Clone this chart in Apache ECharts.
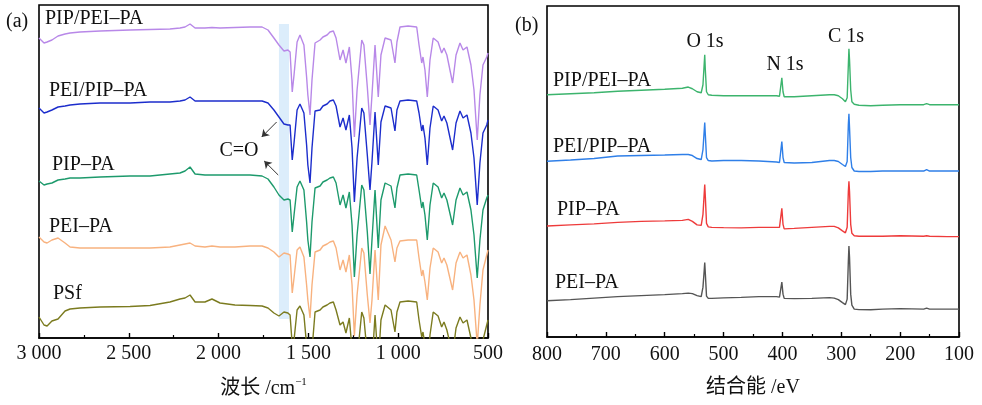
<!DOCTYPE html>
<html><head><meta charset="utf-8">
<script src="https://cdn.jsdelivr.net/npm/echarts@6/dist/echarts.min.js"></script>
<style>html,body{margin:0;padding:0;background:#fff}#c{width:982px;height:405px}</style>
</head><body><div id="c"></div>
<script>
// ---------- Panel (a): FTIR ----------
const ftirWavenumber = [3000,2972,2955,2928,2894,2855,2827,2772,2660,2493,2382,2271,2215,2187,2159,2131,2076,2037,1992,1909,1825,1758,1725,1692,1664,1636,1614,
1602,1590,1580,1563,1547,1525,1510,1503,1491,1480,1463,1435,1419,1396,1380,1361,1346,1324,1307,1291,1272,1257,1244,1229,1203,1191,1172,1157,1146,1129,1111,1096,1073,1040,1018,1007,990,945,897,884,869,862,851,838,823,805,778,758,745,729,697,678,656,639,617,595,578,560,545,528,507,500];
const ftirPIPPEI = [300,295,296,298,302,304,305,306,307,308,308.5,309,310,311,314,310,310,310.5,310,310.5,311,311,308,300,293,287,288,
286,246,263,296,303,293,261,243,223,258,295,298,301,303,306,307,300,278,288,275,291,258,201,248,298,293,251,213,243,293,241,283,300,298,275,296,311,312,311,293,275,281,268,241,278,300,296,285,290,283,255,283,295,288,291,273,248,198,243,273,281,285];
const ftirPEIPIP = [230,225,226,228,231,232,233,234,235,235,236,236,237,238,241,237,237,237,237,237,237,237,235,228,221,214,213,
213,178,195,228,234,225,193,173,155,190,227,228,232,234,237,238,232,211,220,208,223,190,136,180,230,225,183,148,176,226,173,216,232,230,207,228,237,238,237,225,207,213,200,173,210,232,228,217,222,215,188,215,227,220,223,205,180,133,175,205,213,218];
const ftirPIP = [157,153,154,155,158,159,160,160,161,162,162,164,165,167,171,164,163,163,163,163,163,162,159,151,143,138,139,
138,106,123,151,157,148,116,98,81,116,150,152,156,158,160,161,155,133,143,130,146,113,61,103,153,148,106,64,98,148,90,138,155,152,130,150,163,164,163,148,130,136,123,98,133,155,151,140,145,138,113,138,150,143,146,128,103,60,98,128,140,143];
const ftirPEI = [101,96,95,98,100,95,91,90,90,90,90,91,93,94,95,92,91,92,91,91,92,92,90,86,81,85,84,
83,45,60,88,91,81,53,38,20,53,86,88,92,94,96,97,90,68,78,66,83,53,2,43,90,85,43,15,38,88,38,93,112,98,76,90,97,98,98,80,62,68,56,38,70,90,86,75,80,73,48,75,86,80,83,63,38,-7,33,68,83,88];
const ftirPSf = [21,13,12,17,19,27,29,30,31,31.5,32.5,36,39,40,43,36,36,39,35,33,32.5,32,30,25,22,26,25,
23,-7,-2,28,32,23,-7,-22,-42,-12,26,28,31,33,35,36,28,13,16,5,20,-12,-62,-22,26,20,-17,-57,-27,23,-27,18,33,28,6,26,36,37,36,18,1,6,-7,-32,3,26,22,11,16,8,-17,10,21,15,18,0,-27,-72,-32,-2,13,18];
const ftirTicks = [3000,2500,2000,1500,1000,500];

// ---------- Panel (b): XPS ----------
const xpsBE = [800,760,720,680,640,600,570,560,553,545,538,535,533,532,531,529,526,520,500,470,440,410,405,403,401,399,397,394,380,350,320,312,305,298,293,290,288,287,286,284,282,278,270,250,230,200,160,155,150,120,100];
const xpsPIPPEI = [243,244,245,246.5,247.5,248.5,249.5,250.7,249,246,245,253,273,283,268,246,243,242.5,242,242,242,242,241.5,241,260,246,241,240.5,241,242,243,243,242,239,236,240,273,289,278,248,236,233.5,232.5,232,232.5,233,233,234,233,233,233];
const xpsPEIPIP = [176.3,177.5,179,181.5,182,182.5,183,183,182,179,178,188,206,215,203,180,177,176.5,177,177,176.5,175.5,175,175,196,180,175,174.5,174.5,175,177,177,176,173,171,176,213,224,210,180,170,166.5,166,166,166.5,166.5,166.5,168,166.5,166.5,166.5];
const xpsPIP = [111.3,112.5,113.5,115,116,116.5,117,118,116,112.5,112,123,143,153,141,114,110.5,110,109.7,109.5,110,110,110,109.5,129,113,108.5,108.5,109,110,111,111,109.5,106.5,104.5,110,146,156.3,146,113,104,101.5,101,101,101,101.5,101,101.5,101,100.7,100.7];
const xpsPEI = [36.3,37.5,39,40.5,41.5,42.5,43.5,44,43.5,41.5,40.5,50,66,74.7,64,41,38.7,38.7,39.2,39.7,40.5,40.5,40,40,55,43,38.7,38.5,38.5,38.7,39.5,39,37.5,34.5,32.5,38,76,91.3,80,43,32,28,27.5,27.3,28,28.5,28,29,28,28,28];

const SERIF = "'Liberation Serif','Noto Sans CJK SC',serif";
const pair = (xs, ys) => xs.map((x, i) => [x, ys[i]]);

function lineSeries(name, xi, xs, ys, color) {
  return { name, type: 'line', xAxisIndex: xi, yAxisIndex: xi, data: pair(xs, ys),
    showSymbol: false, symbol: 'none', clip: true, z: 3, animation: false,
    lineStyle: { color, width: 1.4 } };
}

function txt(text, x, y, size, align) {
  return { type: 'text', x, y, style: { text, fontSize: size || 20, fontFamily: SERIF, fill: '#111', align: align || 'left', verticalAlign: 'middle' } };
}

const axisCommon = (min, max, interval, fmt, margin) => ({
  type: 'value', min, max, interval, inverse: true,
  axisLine: { show: true, onZero: false, lineStyle: { color: '#000', width: 1.6 } },
  axisTick: { show: true, inside: true, length: 5, lineStyle: { color: '#000', width: 1.4 } },
  minorTick: { show: true, splitNumber: 2, length: 3, lineStyle: { color: '#000', width: 1.2 } },
  splitLine: { show: false },
  axisLabel: { formatter: fmt, fontSize: 20, fontFamily: SERIF, color: '#111', margin }
});

const chart = echarts.init(document.getElementById('c'), null, { renderer: 'canvas' });
chart.setOption({
  animation: false,
  backgroundColor: '#fff',
  grid: [
    { left: 39, right: 494, top: 5, bottom: 67, show: true, borderColor: '#000', borderWidth: 1.6 },
    { left: 547, right: 23, top: 6, bottom: 67, show: true, borderColor: '#000', borderWidth: 1.6 }
  ],
  xAxis: [
    Object.assign(axisCommon(500, 3000, 500, v => v >= 1000 ? Math.floor(v / 1000) + ' ' + String(v % 1000).padStart(3, '0') : String(v), 6), {
      gridIndex: 0, name: '{a|波长 /cm}{s|−1}', nameLocation: 'middle', nameGap: 39,
      nameTextStyle: { rich: { a: { fontSize: 20, fontFamily: SERIF, color: '#111', lineHeight: 24 }, s: { fontSize: 11, fontFamily: SERIF, color: '#111', verticalAlign: 'top', lineHeight: 24 } } }
    }),
    Object.assign(axisCommon(100, 800, 100, v => String(v), 8), {
      gridIndex: 1, name: '结合能 /eV', nameLocation: 'middle', nameGap: 39,
      nameTextStyle: { fontSize: 20, fontFamily: SERIF, color: '#111', lineHeight: 24 }
    })
  ],
  yAxis: [
    { type: 'value', gridIndex: 0, min: 0, max: 333, show: false },
    { type: 'value', gridIndex: 1, min: 0, max: 332, show: false }
  ],
  series: [
    { name: 'band', type: 'line', xAxisIndex: 0, yAxisIndex: 0, data: [[1636, 150]], showSymbol: false, symbol: 'none', z: 1,
      lineStyle: { opacity: 0 }, silent: true,
      markArea: { silent: true, itemStyle: { color: '#dcedfb', opacity: 1 }, data: [[{ coord: [1664, 314] }, { coord: [1608, 19] }]] },
      markLine: { silent: true, symbol: ['none', 'arrow'], symbolSize: 7, label: { show: false },
        lineStyle: { color: '#333', width: 1, type: 'solid' },
        data: [[{ coord: [1677, 216] }, { coord: [1760, 201] }], [{ coord: [1668, 163] }, { coord: [1746, 177] }]] } },
    lineSeries('PIP/PEI–PA (a)', 0, ftirWavenumber, ftirPIPPEI, '#b888e8'),
    lineSeries('PEI/PIP–PA (a)', 0, ftirWavenumber, ftirPEIPIP, '#1c2dcc'),
    lineSeries('PIP–PA (a)', 0, ftirWavenumber, ftirPIP, '#1d9a6c'),
    lineSeries('PEI–PA (a)', 0, ftirWavenumber, ftirPEI, '#f8b27f'),
    lineSeries('PSf', 0, ftirWavenumber, ftirPSf, '#7b7b1f'),
    lineSeries('PIP/PEI–PA (b)', 1, xpsBE, xpsPIPPEI, '#3cb46d'),
    lineSeries('PEI/PIP–PA (b)', 1, xpsBE, xpsPEIPIP, '#2f7fe8'),
    lineSeries('PIP–PA (b)', 1, xpsBE, xpsPIP, '#ee3b3b'),
    lineSeries('PEI–PA (b)', 1, xpsBE, xpsPEI, '#555555')
  ],
  graphic: [
    txt('(a)', 6, 22, 20),
    txt('PIP/PEI–PA', 45, 19),
    txt('PEI/PIP–PA', 49, 91),
    txt('C=O', 239, 151, 20, 'center'),
    txt('PIP–PA', 52, 165),
    txt('PEI–PA', 49, 227),
    txt('PSf', 53, 294),
    txt('(b)', 515, 26, 20),
    txt('O 1s', 705, 42, 20, 'center'),
    txt('N 1s', 785, 65, 20, 'center'),
    txt('C 1s', 846, 37, 20, 'center'),
    txt('PIP/PEI–PA', 553, 81),
    txt('PEI/PIP–PA', 553, 147),
    txt('PIP–PA', 557, 210),
    txt('PEI–PA', 555, 283)
  ]
});
</script></body></html>
